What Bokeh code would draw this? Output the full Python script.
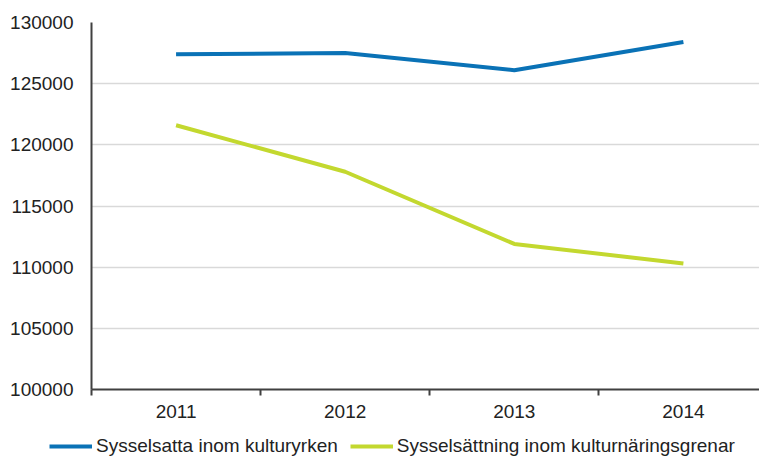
from bokeh.plotting import figure
from bokeh.layouts import column
from bokeh.models import Range1d, FixedTicker, Legend, LegendItem, NumeralTickFormatter
from bokeh.embed import file_html
from bokeh.resources import INLINE

years = [2011, 2012, 2013, 2014]
yrken = [127400, 127500, 126100, 128400]
naring = [121600, 117800, 111900, 110300]
series_names = ["Sysselsatta inom kulturyrken", "Sysselsättning inom kulturnäringsgrenar"]
y_ticks = [100000, 105000, 110000, 115000, 120000, 125000, 130000]
colors = ["#0a72b6", "#c3d82f"]

FONT = "Liberation Sans"
FS = "19px"

p = figure(frame_width=668, frame_height=367, output_backend="svg", toolbar_location=None,
           x_range=Range1d(2010.5, 2014.45), y_range=Range1d(100000, 130000),
           min_border_left=91, min_border_right=0, min_border_top=22, min_border_bottom=40)
p.outline_line_color = None
p.background_fill_color = "white"

p.line(years, yrken, line_color=colors[0], line_width=4)
p.line(years, naring, line_color=colors[1], line_width=4)

# x axis
p.xaxis.ticker = FixedTicker(ticks=years, minor_ticks=[2010.5, 2011.5, 2012.5, 2013.5])
p.xaxis.major_tick_out = 0
p.xaxis.major_tick_in = 0
p.xaxis.minor_tick_out = 6
p.xaxis.minor_tick_in = 0
p.xaxis.minor_tick_line_color = "#404040"
p.xaxis.minor_tick_line_width = 2
p.xaxis.axis_line_color = "#404040"
p.xaxis.axis_line_width = 2
p.xaxis.major_label_standoff = 9
p.xaxis.major_label_text_font = FONT
p.xaxis.major_label_text_font_size = FS
p.xaxis.major_label_text_color = "#222222"

# y axis
p.yaxis.ticker = FixedTicker(ticks=y_ticks)
p.yaxis.formatter = NumeralTickFormatter(format="0")
p.yaxis.major_tick_out = 0
p.yaxis.major_tick_in = 0
p.yaxis.minor_tick_line_color = None
p.yaxis.axis_line_color = "#404040"
p.yaxis.axis_line_width = 2
p.yaxis.major_label_standoff = 18
p.yaxis.major_label_text_font = FONT
p.yaxis.major_label_text_font_size = FS
p.yaxis.major_label_text_color = "#222222"

p.xgrid.grid_line_color = None
p.ygrid.grid_line_color = "#d9d9d9"
p.ygrid.grid_line_width = 1.5

# legend strip below the chart (its own lines lie outside its visible range)
lg = figure(frame_width=759, frame_height=30, output_backend="svg", toolbar_location=None,
            x_range=Range1d(0, 1), y_range=Range1d(0, 1),
            min_border=0, x_axis_type=None, y_axis_type=None)
lg.outline_line_color = None
lg.xgrid.visible = False
lg.ygrid.visible = False
lr1 = lg.line(x=years, y=yrken, line_color=colors[0], line_width=4)
lr2 = lg.line(x=years, y=naring, line_color=colors[1], line_width=4)

legend = Legend(items=[LegendItem(label=series_names[0], renderers=[lr1]),
                       LegendItem(label=series_names[1], renderers=[lr2])],
                orientation="horizontal", location=(49, 2),
                label_text_font=FONT, label_text_font_size=FS, label_text_color="#222222",
                glyph_width=43, glyph_height=16, label_height=16, label_standoff=4, spacing=12,
                border_line_color=None, background_fill_alpha=0, padding=0, margin=0)
lg.add_layout(legend, "center")

layout = column(p, lg, spacing=0)
open("out.html", "w").write(file_html(layout, INLINE))
